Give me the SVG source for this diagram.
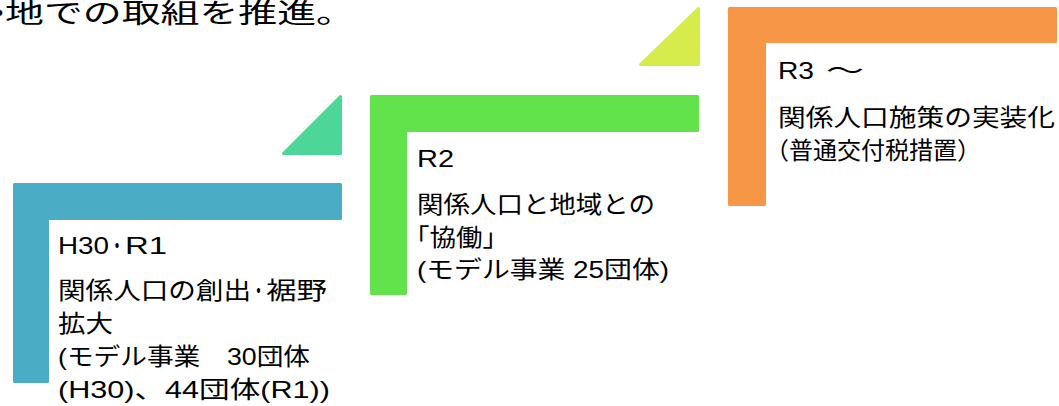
<svg xmlns="http://www.w3.org/2000/svg" width="1059" height="406" viewBox="0 0 1059 406">
<style>
.t{font-family:"Liberation Sans","Noto Sans CJK JP",sans-serif;fill:#000;}
.hd{font-size:27px;}
.lb{font-size:24px;}
.shape{stroke-width:3;stroke-linejoin:round;}
.blue{fill:#4BACC6;stroke:#4BACC6;}
.green{fill:#62E24B;stroke:#62E24B;}
.orange{fill:#F79646;stroke:#F79646;}
.teal{fill:#4CD698;stroke:#4CD698;}
.lime{fill:#D5EC4A;stroke:#D5EC4A;}
</style>
<rect width="1059" height="406" fill="#fff"/>
<text class="t hd" y="23"><tspan x="-14">・</tspan><tspan x="5" textLength="350" lengthAdjust="spacingAndGlyphs">地での取組を推進。</tspan></text>
<g id="step-h30-r1">
<path class="shape blue" d="M14.5,184.5 H340.5 V218.5 H47.5 V381.5 H14.5 Z"/>
<text class="t lb" y="254"><tspan x="58" textLength="51" lengthAdjust="spacingAndGlyphs">H30</tspan><tspan x="109" textLength="16" lengthAdjust="spacingAndGlyphs">・</tspan><tspan x="125" textLength="42" lengthAdjust="spacingAndGlyphs">R1</tspan></text>
<text class="t lb" y="299"><tspan x="58" textLength="193" lengthAdjust="spacingAndGlyphs">関係人口の創出</tspan><tspan x="251" textLength="15" lengthAdjust="spacingAndGlyphs">・</tspan><tspan x="266" textLength="61" lengthAdjust="spacingAndGlyphs">裾野</tspan></text>
<text class="t lb" x="58" y="332" textLength="55" lengthAdjust="spacingAndGlyphs">拡大</text>
<text class="t lb" x="58" y="365" textLength="252" lengthAdjust="spacingAndGlyphs" xml:space="preserve">(モデル事業　30団体</text>
<text class="t lb" x="58" y="398" textLength="272" lengthAdjust="spacingAndGlyphs">(H30)、44団体(R1))</text>
</g>
<g id="step-r2">
<path class="shape teal" d="M340.5,96.5 V153.5 H283.5 Z"/>
<path class="shape green" d="M371.5,96.5 H697.5 V130.5 H405.5 V293.5 H371.5 Z"/>
<text class="t lb" x="417" y="167" textLength="37" lengthAdjust="spacingAndGlyphs">R2</text>
<text class="t lb" x="417" y="213" textLength="238" lengthAdjust="spacingAndGlyphs">関係人口と地域との</text>
<text class="t lb" x="403" y="246" textLength="106" lengthAdjust="spacingAndGlyphs">「協働」</text>
<text class="t lb" x="417" y="278" textLength="252" lengthAdjust="spacingAndGlyphs">(モデル事業 25団体)</text>
</g>
<g id="step-r3">
<path class="shape lime" d="M698.5,8.5 V64.5 H640.5 Z"/>
<path class="shape orange" d="M729.5,8.5 H1055.5 V41.5 H764.5 V204.5 H729.5 Z"/>
<text class="t lb" y="79"><tspan x="778" textLength="36" lengthAdjust="spacingAndGlyphs">R3</tspan><tspan x="826" textLength="38" lengthAdjust="spacingAndGlyphs">～</tspan></text>
<text class="t lb" x="778" y="126" textLength="277" lengthAdjust="spacingAndGlyphs">関係人口施策の実装化</text>
<text class="t lb" x="765" y="159">（普通交付税措置）</text>
</g>
<g id="connectors"></g>
</svg>
